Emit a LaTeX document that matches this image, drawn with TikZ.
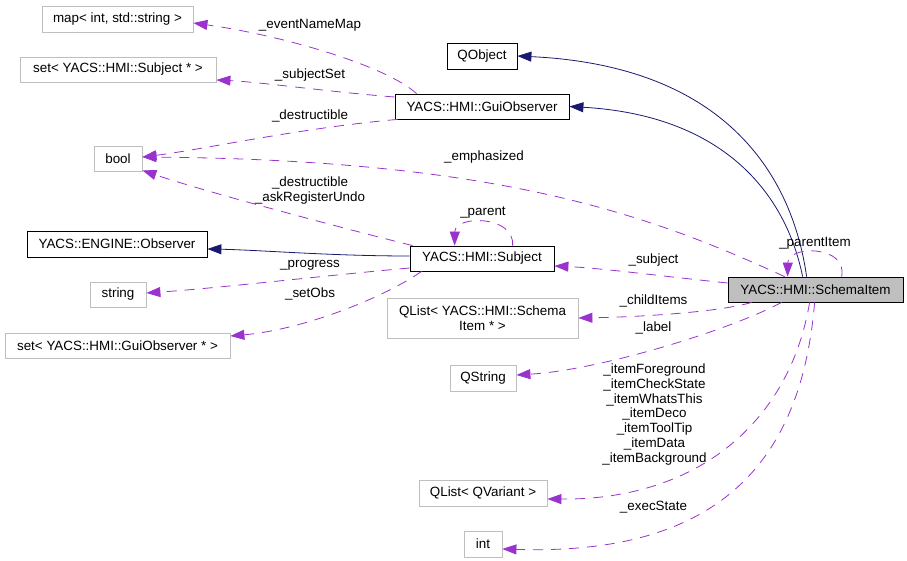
\documentclass[tikz,border=0pt]{standalone}
\usepackage{fontspec}
\setmainfont{Liberation Sans}
\usetikzlibrary{arrows.meta}
\definecolor{dxpurple}{HTML}{9A32CD}
\definecolor{dxnavy}{HTML}{191970}
\definecolor{dxgray}{HTML}{BFBFBF}
\begin{document}
\begin{tikzpicture}[x=1pt,y=-1pt,
  font=\fontsize{13.4}{15}\selectfont,
  box/.style={draw, line width=0.8pt, inner sep=0pt, align=center},
  gbox/.style={box, draw=dxgray},
  kbox/.style={box, draw=black},
  mem/.style={draw=dxpurple, line width=0.8pt, dash pattern=on 10pt off 8pt,
    -{Triangle[length=14pt,width=10pt,fill=dxpurple]}},
  inh/.style={draw=dxnavy, line width=0.8pt,
    -{Triangle[length=14pt,width=10pt,fill=dxnavy]}},
  lbl/.style={inner sep=0pt, align=center}]

\useasboundingbox (0,0) rectangle (907,561);

% nodes
\node[gbox, minimum width=151pt, minimum height=26pt] (map) at (117.5,19) {map< int, std::string >};
\node[gbox, minimum width=196pt, minimum height=25pt] (setS) at (118,69.5) {set< YACS::HMI::Subject * >};
\node[gbox, minimum width=48pt, minimum height=25pt] (bool) at (118,158.5) {bool};
\node[kbox, minimum width=70pt, minimum height=26pt] (qobj) at (482,56) {QObject};
\node[kbox, minimum width=174pt, minimum height=25pt] (gui) at (482,106.5) {YACS::HMI::GuiObserver};
\node[kbox, minimum width=180pt, minimum height=26pt] (obs) at (117,244) {YACS::ENGINE::Observer};
\node[gbox, minimum width=56pt, minimum height=25pt] (string) at (118,294.5) {string};
\node[gbox, minimum width=225pt, minimum height=25pt] (setG) at (117.5,345.5) {set< YACS::HMI::GuiObserver * >};
\node[kbox, minimum width=144pt, minimum height=25pt] (subj) at (482,258.5) {YACS::HMI::Subject};
\node[box, draw=black, fill=dxgray, minimum width=175pt, minimum height=25pt] (schema) at (815.5,289.5) {YACS::HMI::SchemaItem};
\node[gbox, minimum width=191pt, minimum height=40pt] (qlistS) at (482.5,318) {QList< YACS::HMI::Schema\\Item * >};
\node[gbox, minimum width=66pt, minimum height=26pt] (qstring) at (483,378) {QString};
\node[gbox, minimum width=128pt, minimum height=26pt] (qvar) at (483,493) {QList< QVariant >};
\node[gbox, minimum width=38pt, minimum height=26pt] (int) at (483,544) {int};

% inheritance (navy)
\draw[inh] ([xshift=79pt]schema.north west) .. controls (793,180) and (730,66) .. (qobj.east);
\draw[inh] ([xshift=75pt]schema.north west) .. controls (785,190) and (720,115) .. (gui.east);
\draw[inh] ([yshift=2.5pt]subj.west) .. controls (330,256) and (260,250) .. ([yshift=-5pt]obs.east);

% members of GuiObserver
\draw[mem] ([xshift=22pt]gui.north west) .. controls (385,65) and (280,35) .. ([yshift=-4pt]map.east);
\draw[mem] ([yshift=9.5pt]gui.west) .. controls (330,92) and (260,82) .. ([yshift=-10.5pt]setS.east);
\draw[mem] ([xshift=3pt]gui.south west) .. controls (300,128) and (200,150) .. ([yshift=1.5pt]bool.east);

% members of Subject
\draw[mem] ([xshift=3pt]subj.north west) .. controls (330,225) and (200,190) .. ([yshift=1pt]bool.south east);
\draw[mem] ([yshift=-9.5pt]subj.west) .. controls (330,275) and (220,288) .. ([yshift=1.5pt]string.east);
\draw[mem] ([xshift=12pt]subj.south west) .. controls (380,300) and (300,330) .. ([yshift=9.5pt]setG.east);
\draw[mem] ([xshift=103pt]subj.north west) .. controls (515,215) and (455,215) .. ([xshift=45pt]subj.north west);

% members of SchemaItem
\draw[mem] ([xshift=57pt]schema.north west) .. controls (650,215) and (500,160) .. ([yshift=1.5pt]bool.east);
\draw[mem] ([yshift=6.5pt]schema.west) .. controls (660,276) and (600,268) .. ([yshift=-7.5pt]subj.east);
\draw[mem] ([xshift=114pt]schema.north west) .. controls (848,245) and (788,245) .. ([xshift=60pt]schema.north west);
\draw[mem] ([xshift=24pt]schema.south west) .. controls (720,312) and (640,317) .. (qlistS.east);
\draw[mem] ([xshift=54pt]schema.south west) .. controls (730,330) and (600,370) .. ([yshift=3pt]qstring.east);
\draw[mem] ([xshift=82pt]schema.south west) .. controls (790,420) and (700,500) .. ([yshift=-6pt]qvar.east);
\draw[mem] ([xshift=87pt]schema.south west) .. controls (800,480) and (700,555) .. ([yshift=-5pt]int.east);

% labels
\node[lbl] (l1) at (310,25) {\_eventNameMap};
\node[lbl] (l2) at (310,75) {\_subjectSet};
\node[lbl] (l3) at (310,116) {\_destructible};
\node[lbl] (l4) at (484,157) {\_emphasized};
\node[lbl] (l5) at (310,190.5) {\_destructible\\\_askRegisterUndo};
\node[lbl] (l6) at (310,265) {\_progress};
\node[lbl] (l7) at (310,294) {\_setObs};
\node[lbl] (l8) at (483,213) {\_parent};
\node[lbl] (l9) at (815,243) {\_parentItem};
\node[lbl] (l10) at (653.5,260.5) {\_subject};
\node[lbl] (l11) at (653.5,301) {\_childItems};
\node[lbl] (l12) at (653.5,327.5) {\_label};
\node[lbl, font=\fontsize{13.4}{14.8}\selectfont] (l13) at (654.5,414.5) {\_itemForeground\\\_itemCheckState\\\_itemWhatsThis\\\_itemDeco\\\_itemToolTip\\\_itemData\\\_itemBackground};
\node[lbl] (l14) at (653.5,507.5) {\_execState};
\end{tikzpicture}
\end{document}
